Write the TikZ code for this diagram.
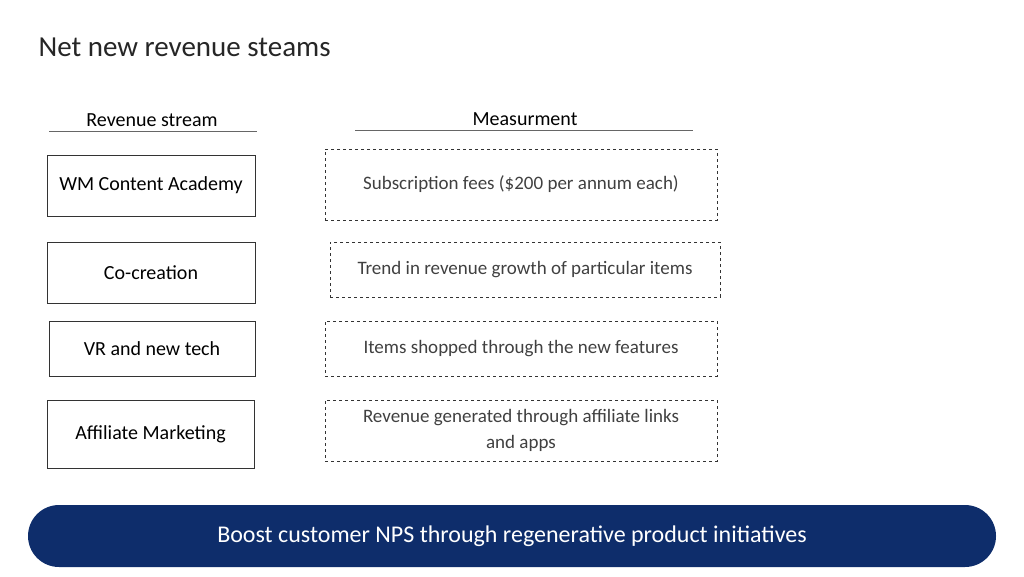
\documentclass[tikz,border=0pt]{standalone}
\usepackage{fontspec}
\setmainfont{Carlito}
\begin{document}
\begin{tikzpicture}[x=1pt,y=-1pt,
  lbox/.style={draw=black!80,line width=0.8pt,font=\fontsize{20}{24}\selectfont,text=black},
  rbox/.style={draw=black!80,dashed,line width=0.8pt,font=\fontsize{19}{26}\selectfont,text=black!75,align=center},
  hdr/.style={font=\fontsize{20}{24}\selectfont,text=black}]
\useasboundingbox (0,0) rectangle (1024,576);
\node[anchor=west,font=\fontsize{29}{34}\selectfont,text=black!85] (title) at (35,47) {Net new revenue steams};
\node[hdr] (h1) at (152,120) {Revenue stream};
\node[hdr] (h2) at (525,119) {Measurment};
\draw[black!60] (49,131) -- (257,131);
\draw[black!60] (355,130) -- (693,130);
\node[lbox,minimum width=208,minimum height=61] (l1) at (151,185.5) {WM Content Academy};
\node[lbox,minimum width=208,minimum height=61] (l2) at (151,272.5) {Co-creation};
\node[lbox,minimum width=206,minimum height=55] (l3) at (152,348.5) {VR and new tech};
\node[lbox,minimum width=207,minimum height=68] (l4) at (150.5,434) {Affiliate Marketing};
\node[rbox,minimum width=392,minimum height=71] (r1) at (521,184.5) {Subscription fees (\$200 per annum each)};
\node[rbox,minimum width=390,minimum height=55] (r2) at (525,269.5) {Trend in revenue growth of particular items};
\node[rbox,minimum width=392,minimum height=55] (r3) at (521,348.5) {Items shopped through the new features};
\node[rbox,minimum width=392,minimum height=61] (r4) at (521,430.5) {Revenue generated through affiliate links\\and apps};
\node[fill={rgb,255:red,14;green,45;blue,107},rounded corners=31,minimum width=968,minimum height=62,text=white,font=\fontsize{24}{28}\selectfont] (banner) at (512,536) {Boost customer NPS through regenerative product initiatives};
\end{tikzpicture}
\end{document}
